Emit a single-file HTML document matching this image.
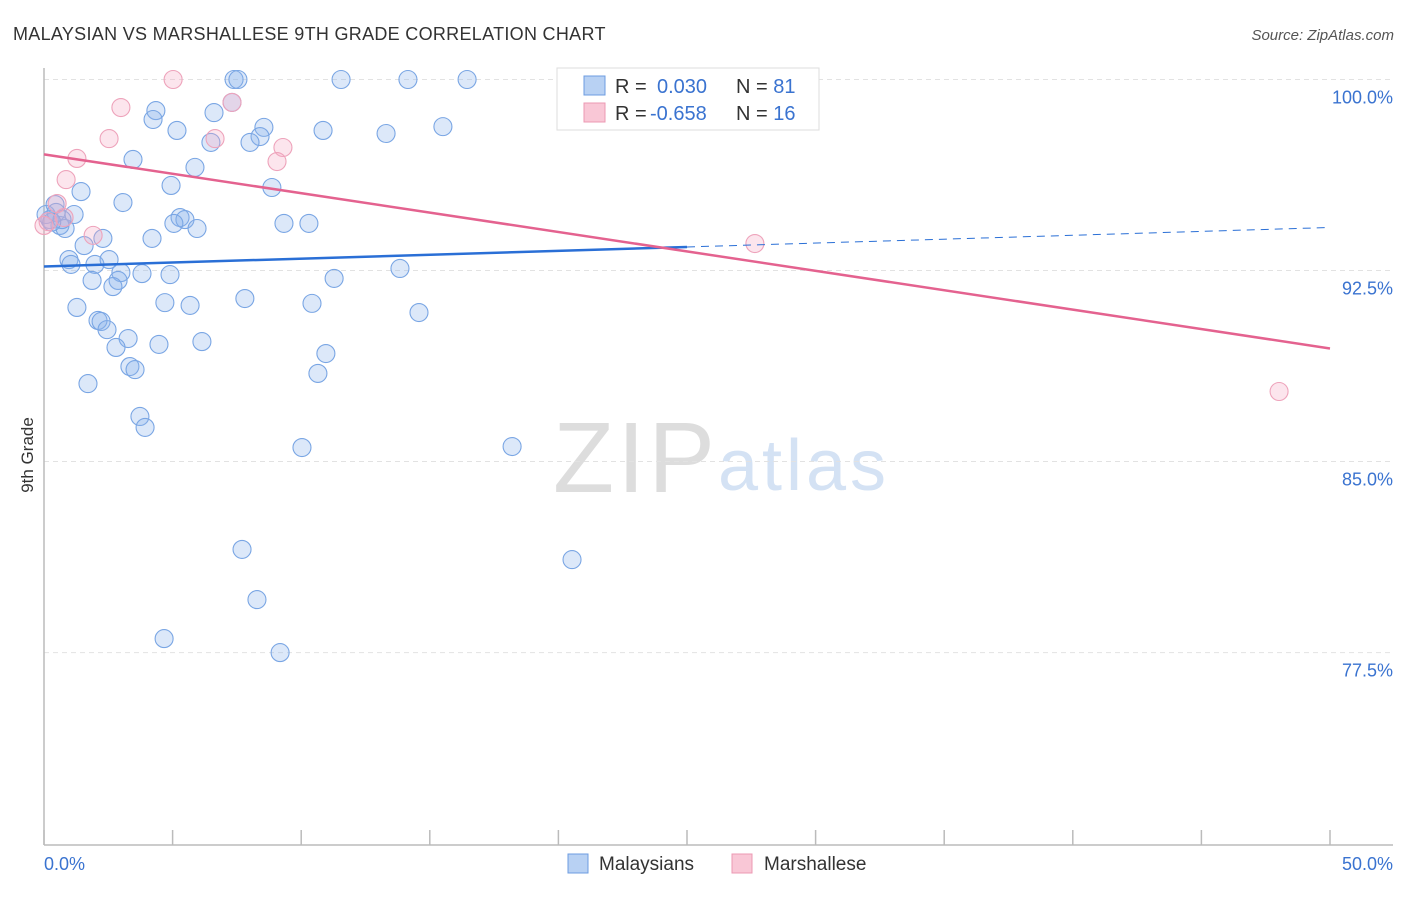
<!DOCTYPE html>
<html><head><meta charset="utf-8">
<style>
body{margin:0;background:#fff;width:1406px;height:892px;overflow:hidden;font-family:"Liberation Sans",sans-serif;}
svg text{font-family:"Liberation Sans",sans-serif;}
</style></head>
<body>
<svg id="chart" width="1406" height="892">
<text x="13" y="40" font-size="18" fill="#333" letter-spacing="0.3">MALAYSIAN VS MARSHALLESE 9TH GRADE CORRELATION CHART</text>
<text x="1394" y="40" font-size="15" fill="#555" font-style="italic" text-anchor="end">Source: ZipAtlas.com</text>
<text x="33" y="455" font-size="17" fill="#333" transform="rotate(-90 33 455)" text-anchor="middle">9th Grade</text>
<g>
<text x="553" y="492" font-size="100" fill="#ddd" font-family="Liberation Serif,serif" textLength="162">ZIP</text>
<text x="718" y="490" font-size="72" fill="#d4e2f4" textLength="168">atlas</text>
</g>
<g id="grid"></g><g id="axes"></g><g id="marks"></g>
<g>
<rect x="557" y="68" width="262" height="62" fill="#fff" stroke="#ddd"/>
<rect x="584" y="76" width="21" height="19" fill="#b8d1f3" stroke="#6d9ce0"/>
<rect x="584" y="103" width="21" height="19" fill="#f9c7d6" stroke="#ec98b3"/>
<text x="615" y="93" font-size="20" fill="#333">R = <tspan x="657" fill="#3a73d0">0.030</tspan><tspan x="736">N = </tspan><tspan fill="#3a73d0">81</tspan></text>
<text x="615" y="120" font-size="20" fill="#333">R = <tspan x="650" fill="#3a73d0">-0.658</tspan><tspan x="736">N = </tspan><tspan fill="#3a73d0">16</tspan></text>
</g>
<g>
<rect x="568" y="854" width="20" height="19" fill="#b8d1f3" stroke="#6d9ce0"/>
<text x="599" y="870" font-size="19" fill="#333">Malaysians</text>
<rect x="732" y="854" width="20" height="19" fill="#f9c7d6" stroke="#ec98b3"/>
<text x="764" y="870" font-size="19" fill="#333">Marshallese</text>
</g>
</svg>
<script>
const yTicks=[100,92.5,85,77.5];
const yTickLabels=["100.0%","92.5%","85.0%","77.5%"];
const xTickVals=[0,5,10,15,20,25,30,35,40,45,50];
const xEndLabels=["0.0%","50.0%"];
const blueX=[7.39,7.54,11.55,14.15,16.45,23.09,4.35,4.24,6.61,5.17,8.55,10.85,13.30,15.51,7.31,8.40,8.01,6.49,3.46,5.87,8.86,4.94,1.44,3.07,0.43,1.17,5.29,5.48,5.05,5.95,9.33,10.30,0.62,0.82,0.23,0.08,2.29,4.20,1.56,0.97,1.05,1.98,2.53,2.99,3.81,4.90,1.87,2.88,2.68,13.84,11.28,1.28,4.70,5.68,7.81,10.42,14.58,2.10,2.22,2.45,3.27,2.80,4.47,6.14,10.96,3.34,3.54,10.65,1.71,3.73,3.93,10.03,18.20,7.70,20.53,8.28,4.67,9.18,0.47,0.70,0.30];
const blueY=[100,100,100,100,100,100,98.78,98.43,98.70,98.00,98.12,98.00,97.88,98.15,99.10,97.76,97.53,97.53,96.86,96.55,95.76,95.84,95.60,95.17,95.09,94.70,94.58,94.50,94.35,94.15,94.35,94.35,94.27,94.15,94.50,94.70,93.76,93.76,93.48,92.93,92.74,92.74,92.93,92.42,92.38,92.34,92.11,92.11,91.87,92.58,92.19,91.05,91.24,91.13,91.40,91.21,90.85,90.54,90.50,90.18,89.83,89.48,89.60,89.71,89.24,88.73,88.61,88.46,88.06,86.77,86.34,85.55,85.59,81.55,81.15,79.58,78.05,77.50,94.78,94.50,94.40];
const pinkX=[5.02,2.99,7.31,2.53,6.65,9.29,1.28,9.06,0.86,0.51,0.78,1.91,27.64,48.02,0.16,0.0];
const pinkY=[100,98.90,99.10,97.68,97.68,97.33,96.90,96.78,96.07,95.13,94.58,93.88,93.56,87.75,94.42,94.27];
const blueTrend=[92.66,94.19];
const pinkTrend=[97.06,89.44];
const X0=44,X1=1330,Y100=79.5,PXY=25.47;
const sx=v=>X0+(X1-X0)*v/50;
const sy=v=>Y100+(100-v)*PXY;
const NS="http://www.w3.org/2000/svg";
function mk(tag,attrs,parent){const e=document.createElementNS(NS,tag);for(const k in attrs)e.setAttribute(k,attrs[k]);parent.appendChild(e);return e;}
const grid=document.getElementById('grid'),axes=document.getElementById('axes'),marks=document.getElementById('marks');
yTicks.forEach((t,i)=>{
 const l=mk('line',{x1:X0,x2:1393,y1:sy(t),y2:sy(t),stroke:'#e2e2e2','stroke-dasharray':'5,4'},grid);
 
 
 const tx=mk('text',{x:1393,y:sy(t)+24,'font-size':18,fill:'#3a73d0','text-anchor':'end'},axes);
 tx.textContent=yTickLabels[i];
 
 
});
const ya=mk('line',{x1:X0,x2:X0,y1:68,y2:845,stroke:'#bbb','stroke-width':1.5},axes);


const xa=mk('line',{x1:X0,x2:1393,y1:845,y2:845,stroke:'#bbb','stroke-width':1.5},axes);


xTickVals.forEach(v=>{
 const t=mk('line',{x1:sx(v),x2:sx(v),y1:830,y2:845,stroke:'#bbb','stroke-width':1.5},axes);
 
 
});
[[0,'start',44],[50,'end',1393]].forEach(([v,a,x],i)=>{
 const t=mk('text',{x:x,y:870,'font-size':18,fill:'#3a73d0','text-anchor':a},axes);
 t.textContent=xEndLabels[i];
 
 
});
blueX.forEach((x,i)=>{
 const c=mk('circle',{cx:sx(x),cy:sy(blueY[i]),r:9,fill:'rgba(140,180,235,0.3)',stroke:'#7aa6e4','stroke-width':1.1},marks);
 
 
});
pinkX.forEach((x,i)=>{
 const c=mk('circle',{cx:sx(x),cy:sy(pinkY[i]),r:9,fill:'rgba(245,170,195,0.3)',stroke:'#eea3bb','stroke-width':1.1},marks);
 
 
});
const bMid=blueTrend[0]+(blueTrend[1]-blueTrend[0])*0.5;
const b1=mk('line',{x1:sx(0),y1:sy(blueTrend[0]),x2:sx(25),y2:sy(bMid),stroke:'#2a6fd6','stroke-width':2.5},marks);


const b2=mk('line',{x1:sx(25),y1:sy(bMid),x2:sx(50),y2:sy(blueTrend[1]),stroke:'#2a6fd6','stroke-width':1,'stroke-dasharray':'8,6'},marks);


const p1=mk('line',{x1:sx(0),y1:sy(pinkTrend[0]),x2:sx(50),y2:sy(pinkTrend[1]),stroke:'#e4628f','stroke-width':2.5},marks);


</script>
</body></html>
